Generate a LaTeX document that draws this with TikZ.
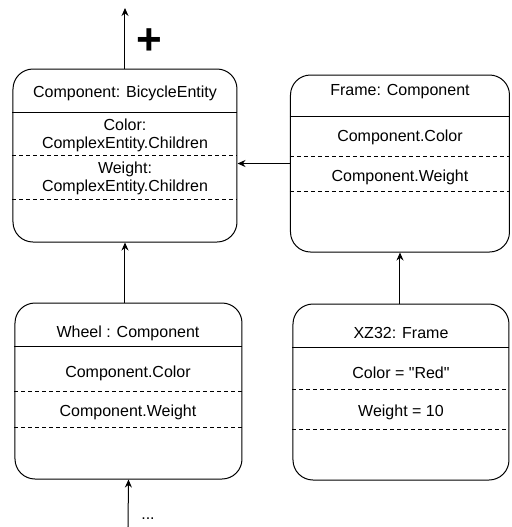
\documentclass[tikz,border=0pt]{standalone}
\usepackage{fontspec}
\setmainfont{Liberation Sans}[Ligatures=TeXOff]
\usepackage{tikz}
\usetikzlibrary{positioning}
\usetikzlibrary{arrows.meta}
\usetikzlibrary{calc}

\tikzset{
  entity/.style={draw, rounded corners=10pt, line width=0.5pt, inner sep=0pt},
  sep/.style={line width=0.5pt},
  dsep/.style={line width=0.5pt, dash pattern=on 2pt off 1.5pt},
  link/.style={line width=0.5pt, -{Stealth[length=4pt,width=3.5pt]}},
  lbl/.style={font=\fontsize{8}{9}\selectfont, align=center, inner sep=0pt}
}

\begin{document}
\begin{tikzpicture}[x=0.5pt,y=0.5pt]
\useasboundingbox (0,0) rectangle (511,-527);

\node[entity, minimum width=112pt, minimum height=86.5pt] (bike) at (125,-155.5) {};
\node[entity, minimum width=109.5pt, minimum height=88.5pt] (frame) at (400,-163.5) {};
\node[entity, minimum width=113.5pt, minimum height=88pt] (wheel) at (128.5,-391) {};
\node[entity, minimum width=108pt, minimum height=88pt] (xz) at (401,-392) {};

\draw[sep] ($(bike.north west)+(0,-44)$) -- ($(bike.north east)+(0,-44)$);
\draw[dsep] ($(bike.north west)+(0,-87)$) -- ($(bike.north east)+(0,-87)$);
\draw[dsep] ($(bike.north west)+(0,-131)$) -- ($(bike.north east)+(0,-131)$);

\draw[sep] ($(frame.north west)+(0,-42)$) -- ($(frame.north east)+(0,-42)$);
\draw[dsep] ($(frame.north west)+(0,-82)$) -- ($(frame.north east)+(0,-82)$);
\draw[dsep] ($(frame.north west)+(0,-117)$) -- ($(frame.north east)+(0,-117)$);

\draw[sep] ($(wheel.north west)+(0,-44)$) -- ($(wheel.north east)+(0,-44)$);
\draw[dsep] ($(wheel.north west)+(0,-89)$) -- ($(wheel.north east)+(0,-89)$);
\draw[dsep] ($(wheel.north west)+(0,-125)$) -- ($(wheel.north east)+(0,-125)$);

\draw[sep] ($(xz.north west)+(0,-44)$) -- ($(xz.north east)+(0,-44)$);
\draw[dsep] ($(xz.north west)+(0,-86)$) -- ($(xz.north east)+(0,-86)$);
\draw[dsep] ($(xz.north west)+(0,-126)$) -- ($(xz.north east)+(0,-126)$);

\node[lbl] (bikename) at (125,-93) {Component: BicycleEntity};
\node[lbl] (bikecolor) at (125,-135) {Color:\\ComplexEntity.Children};
\node[lbl] (bikeweight) at (125,-178) {Weight:\\ComplexEntity.Children};

\node[lbl] (framename) at (400,-92) {Frame: Component};
\node[lbl] (framecolor) at (400,-137) {Component.Color};
\node[lbl] (frameweight) at (400,-177) {Component.Weight};

\node[lbl] (wheelname) at (128,-333) {Wheel : Component};
\node[lbl] (wheelcolor) at (128,-373) {Component.Color};
\node[lbl] (wheelweight) at (128,-412) {Component.Weight};

\node[lbl] (xzname) at (401,-333) {XZ32: Frame};
\node[lbl] (xzcolor) at (401,-373) {Color = "Red"};
\node[lbl] (xzweight) at (401,-412) {Weight = 10};

\coordinate (top) at (125,-8);
\coordinate (more) at (128,-527);

\draw[link] (bike.north) -- (top);
\node[font=\fontsize{22}{22}\selectfont\bfseries, inner sep=0pt] (plus) at (149,-42) {+};

\draw[link] (frame.west) -- (bike.east |- frame.west);
\draw[link] (wheel.north -| bike.south) -- (bike.south);
\draw[link] (xz.north -| frame.south) -- (frame.south);
\draw[link] (more) -- (wheel.south);
\node[lbl] (dots) at (148,-519) {...};
\end{tikzpicture}
\end{document}
